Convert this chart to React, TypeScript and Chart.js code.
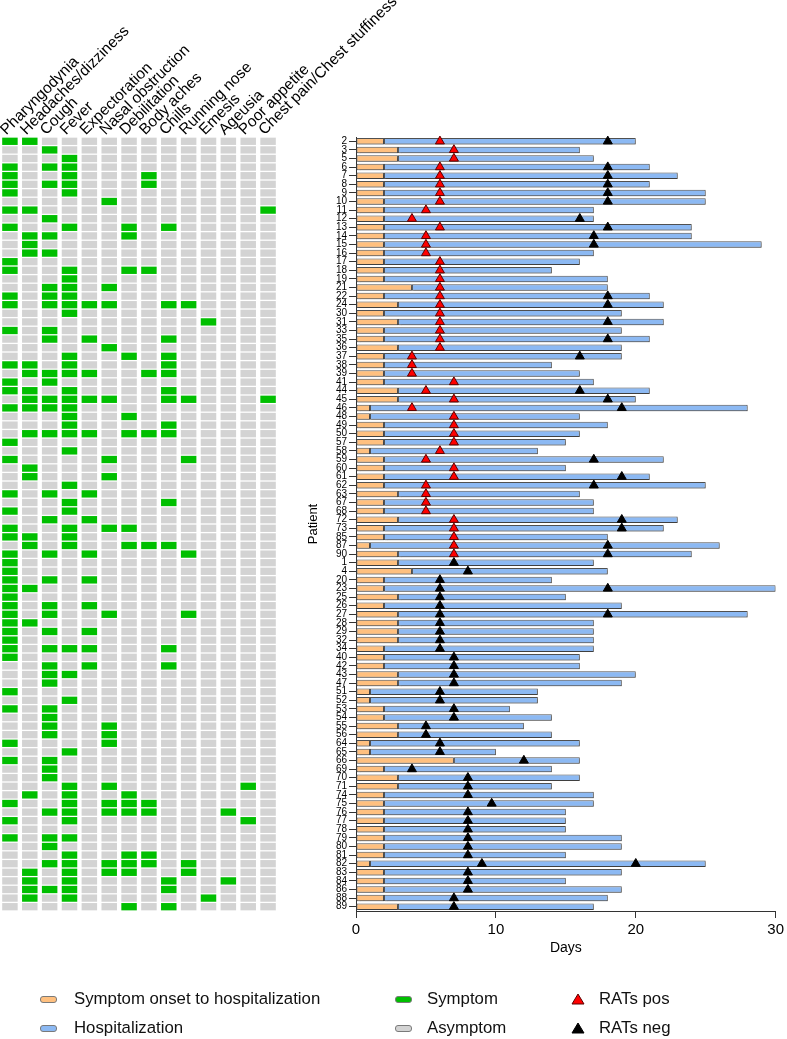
import React, { useEffect, useRef } from 'react';
import { Chart, registerables } from 'chart.js';

Chart.register(...registerables);

const FONT = "'Liberation Sans', Arial, Helvetica, sans-serif";

// Patient IDs, top to bottom
const PATIENTS = [
  '2', '3', '5', '6', '7', '8', '9', '10', '11', '12', '13', '14', '15', '16', '17', '18', '19', '21', '22', '24',
  '30', '31', '33', '35', '36', '37', '38', '39', '41', '44', '45', '46', '48', '49', '50', '57', '58', '59', '60', '61',
  '62', '63', '67', '68', '72', '73', '85', '87', '90', '1', '4', '20', '23', '25', '26', '27', '28', '29', '32', '34',
  '40', '42', '43', '47', '51', '52', '53', '54', '55', '56', '64', '65', '66', '69', '70', '71', '74', '75', '76', '77',
  '78', '79', '80', '81', '82', '83', '84', '86', '88', '89',
];

// Days from symptom onset to hospitalization
const ONSET = [
  2, 3, 3, 2, 2, 2, 2, 2, 2, 2, 2, 2, 2, 2, 2, 2, 2, 4, 2, 3,
  2, 3, 2, 2, 3, 2, 2, 2, 2, 3, 3, 1, 1, 2, 2, 2, 1, 2, 2, 2,
  2, 3, 2, 2, 3, 2, 2, 1, 3, 3, 4, 2, 2, 3, 2, 3, 3, 3, 3, 2,
  2, 2, 3, 3, 1, 1, 2, 2, 3, 3, 1, 1, 7, 2, 3, 3, 2, 2, 2, 2,
  2, 2, 2, 2, 1, 2, 2, 2, 2, 3,
];

// Day at end of hospitalization
const END_DAY = [
  20, 16, 17, 21, 23, 21, 25, 25, 17, 17, 24, 24, 29, 17, 16, 14, 18, 18, 21, 22,
  19, 22, 19, 21, 19, 19, 14, 16, 17, 21, 20, 28, 16, 18, 16, 15, 13, 22, 15, 21,
  25, 16, 17, 17, 23, 22, 18, 26, 24, 17, 18, 14, 30, 15, 19, 28, 17, 17, 17, 17,
  16, 16, 20, 19, 13, 13, 11, 14, 12, 14, 16, 10, 16, 14, 16, 14, 17, 17, 15, 15,
  15, 19, 19, 15, 25, 19, 15, 19, 18, 17,
];

// Day of positive rapid antigen test (null = none)
const RAT_POS = [
  6, 7, 7, 6, 6, 6, 6, 6, 5, 4, 6, 5, 5, 5, 6, 6, 6, 6, 6, 6,
  6, 6, 6, 6, 6, 4, 4, 4, 7, 5, 7, 4, 7, 7, 7, 7, 6, 5, 7, 7,
  5, 5, 5, 5, 7, 7, 7, 7, 7, null, null, null, null, null, null, null, null, null, null, null,
  null, null, null, null, null, null, null, null, null, null, null, null, null, null, null, null, null, null, null, null,
  null, null, null, null, null, null, null, null, null, null,
];

// Day of negative rapid antigen test (null = none)
const RAT_NEG = [
  18, null, null, 18, 18, 18, 18, 18, null, 16, 18, 17, 17, null, null, null, null, null, 18, 18,
  null, 18, null, 18, null, 16, null, null, null, 16, 18, 19, null, null, null, null, null, 17, null, 19,
  17, null, null, null, 19, 19, null, 18, 18, 7, 8, 6, 6, 6, 6, 6, 6, 6, 6, 6,
  7, 7, 7, 7, 6, 6, 7, 7, 5, 5, 6, 6, 12, 4, 8, 8, 8, 9.7, 8, 8,
  8, 8, 8, 8, 9, 8, 8, 8, 7, 7,
];

// Second negative rapid antigen test (null = none)
const RAT_NEG2 = [
  null, null, null, null, null, null, null, null, null, null, null, null, null, null, null, null, null, null, null, null,
  null, null, null, null, null, null, null, null, null, null, null, null, null, null, null, null, null, null, null, null,
  null, null, null, null, null, null, null, null, null, null, null, null, 18, null, null, 18, null, null, null, null,
  null, null, null, null, null, null, null, null, null, null, null, null, null, null, null, null, null, null, null, null,
  null, null, null, null, 20, null, null, null, null, null,
];

const SYMPTOMS = [
  'Pharyngodynia', 'Headaches/dizziness', 'Cough', 'Fever', 'Expectoration', 'Nasal obstruction',
  'Debilitation', 'Body aches', 'Chills', 'Running nose', 'Emesis', 'Ageusia', 'Poor appetite',
  'Chest pain/Chest stuffiness',
];

// One string per patient row, one character per symptom column (1 = symptom)
const SYMPTOM_ROWS = [
  '11000000000000', '00100000000000', '00010000000000', '10110000000000', '10010001000000',
  '10110001000000', '10010000000000', '00000100000000', '11000000000001', '00100000000000',
  '10010010100000', '01100010000000', '01000000000000', '01100000000000', '10000000000000',
  '10010011000000', '00010000000000', '00110100000000', '10110000000000', '10111100110000',
  '00010000000000', '00000000001000', '10100000000000', '00101000100000', '00000100000000',
  '00010010100000', '11010000100000', '01111001100000', '10100000000000', '11010000100000',
  '01111100110001', '11110000000000', '00010010000000', '00010000100000', '01111011100000',
  '10000000000000', '00010000000000', '10000100010000', '01000000000000', '01000100000000',
  '00010000000000', '10101000000000', '00010000100000', '10010000000000', '00101000000000',
  '10010110000000', '11010000000000', '01010011100000', '10101000010000', '10000000000000',
  '10000000000000', '10101000000000', '11000000000000', '10000000000000', '10101000000000',
  '10100100010000', '11000000000000', '10101000000000', '10000000000000', '10111000100000',
  '10000000000000', '00101000100000', '00110000000000', '00100000000000', '10000000000000',
  '00010000000000', '10100000000000', '00100000000000', '00100100000000', '00100100000000',
  '10000100000000', '00010000000000', '10100000000000', '00100000000000', '00100000000000',
  '00010100000010', '01010010000000', '10010111000000', '00110111000100', '10010000000010',
  '00000000000000', '10110000000000', '00100000000000', '00010011000000', '00110111010000',
  '01010110010000', '01010000100100', '01110000100000', '01010000001000', '00000010100000',
];

const ORANGE = '#FFC07F';
const BLUE = '#8CB9F3';
const GREEN = '#00BF00';
const GRAY = '#D3D3D3';
const RED = '#FF0000';
const BLACK = '#000000';

const W = 787;
const H = 1039;
const PLOT_TOP = 137;
const PLOT_BOTTOM_PAD = 128;

const barShadow = {
  id: 'barShadow',
  beforeDatasetDraw(chart: any, args: any) {
    if (args.meta.type === 'bar') {
      const ctx = chart.ctx;
      ctx.save();
      ctx.shadowColor = 'rgba(0,0,0,0.22)';
      ctx.shadowOffsetX = 1;
      ctx.shadowOffsetY = 1.5;
      ctx.shadowBlur = 1;
    }
  },
  afterDatasetDraw(chart: any, args: any) {
    if (args.meta.type === 'bar') chart.ctx.restore();
  },
};

function HeatmapChart() {
  const ref = useRef<HTMLCanvasElement | null>(null);
  useEffect(() => {
    if (!ref.current) return;
    const datasets = SYMPTOMS.map((name, c) => ({
      type: 'bar' as const,
      label: name,
      xAxisID: 'x',
      yAxisID: 'y',
      data: PATIENTS.map(() => [c - 0.39, c + 0.39]),
      backgroundColor: SYMPTOM_ROWS.map((s) => (s[c] === '1' ? GREEN : GRAY)),
      borderWidth: 0,
      grouped: false,
      barPercentage: 0.85,
      categoryPercentage: 1,
    }));
    const chart = new Chart(ref.current, {
      type: 'bar',
      data: { labels: PATIENTS, datasets: datasets as any },
      options: {
        animation: false,
        responsive: false,
        indexAxis: 'y',
        layout: { padding: { left: 0, right: W - 278, top: 0, bottom: PLOT_BOTTOM_PAD } },
        plugins: { legend: { display: false }, tooltip: { enabled: false } },
        scales: {
          x: { type: 'linear', min: -0.5, max: 13.5, display: false },
          xTop: {
            type: 'category',
            position: 'top',
            labels: SYMPTOMS,
            offset: true,
            grid: { display: false, drawTicks: false },
            border: { display: false },
            ticks: {
              autoSkip: false,
              minRotation: 45,
              maxRotation: 45,
              padding: -2,
              labelOffset: 6.5,
              color: '#000',
              font: { size: 15.5, family: FONT },
            },
            afterFit: (s: any) => {
              s.height = PLOT_TOP;
              s.paddingLeft = 0;
              s.paddingRight = 0;
            },
          },
          y: { type: 'category', offset: true, display: false },
        },
      } as any,
    });
    return () => chart.destroy();
  }, []);
  return (
    <canvas ref={ref} width={W} height={H} style={{ position: 'absolute', left: 0, top: 0, width: W, height: H }} />
  );
}

function TimelineChart() {
  const ref = useRef<HTMLCanvasElement | null>(null);
  useEffect(() => {
    if (!ref.current) return;
    const posPts = PATIENTS.map((p, i) => (RAT_POS[i] != null ? { x: RAT_POS[i], y: p } : null)).filter(Boolean);
    const negPts = [
      ...PATIENTS.map((p, i) => (RAT_NEG[i] != null ? { x: RAT_NEG[i], y: p } : null)),
      ...PATIENTS.map((p, i) => (RAT_NEG2[i] != null ? { x: RAT_NEG2[i], y: p } : null)),
    ].filter(Boolean);
    const barCommon = {
      type: 'bar' as const,
      borderColor: '#505050',
      borderWidth: 1,
      borderSkipped: false,
      grouped: false,
      barPercentage: 0.76,
      categoryPercentage: 1,
      order: 1,
    };
    const chart = new Chart(ref.current, {
      type: 'bar',
      data: {
        labels: PATIENTS,
        datasets: [
          {
            type: 'scatter',
            label: 'RATs pos',
            data: posPts,
            pointStyle: 'triangle',
            pointRadius: 5.2,
            backgroundColor: RED,
            borderColor: '#5a0000',
            borderWidth: 1,
            order: 0,
          },
          {
            type: 'scatter',
            label: 'RATs neg',
            data: negPts,
            pointStyle: 'triangle',
            pointRadius: 5.2,
            backgroundColor: BLACK,
            borderColor: BLACK,
            borderWidth: 1,
            order: 0,
          },
          {
            ...barCommon,
            label: 'Symptom onset to hospitalization',
            data: ONSET.map((o) => [0, o]),
            backgroundColor: ORANGE,
          },
          {
            ...barCommon,
            label: 'Hospitalization',
            data: ONSET.map((o, i) => [o, END_DAY[i]]),
            backgroundColor: BLUE,
          },
        ] as any,
      },
      options: {
        animation: false,
        responsive: false,
        indexAxis: 'y',
        layout: { padding: { left: 302, right: 11, top: PLOT_TOP, bottom: PLOT_BOTTOM_PAD - 50 } },
        plugins: { legend: { display: false }, tooltip: { enabled: false } },
        scales: {
          x: {
            type: 'linear',
            min: 0,
            max: 30,
            grid: { drawOnChartArea: false, drawTicks: true, tickLength: 7, color: '#333' },
            border: { display: true, color: '#333', width: 1 },
            ticks: { stepSize: 10, padding: 3, color: '#000', font: { size: 15, family: FONT } },
            title: {
              display: true,
              text: 'Days',
              color: '#000',
              font: { size: 14, family: FONT },
              padding: { top: 0, bottom: 4 },
            },
            afterFit: (s: any) => {
              s.height = 50;
            },
          },
          y: {
            type: 'category',
            offset: true,
            grid: { drawOnChartArea: false, drawTicks: true, tickLength: 7, color: '#333', offset: false },
            border: { display: true, color: '#333', width: 1 },
            ticks: { autoSkip: false, padding: 2, color: '#000', font: { size: 10, family: FONT } },
            title: {
              display: true,
              text: 'Patient',
              color: '#000',
              font: { size: 13, family: FONT },
              padding: { top: 4, bottom: 4 },
            },
            afterFit: (s: any) => {
              s.width = 54;
            },
          },
        },
      } as any,
      plugins: [barShadow],
    });
    return () => chart.destroy();
  }, []);
  return (
    <canvas ref={ref} width={W} height={H} style={{ position: 'absolute', left: 0, top: 0, width: W, height: H }} />
  );
}

const LEGEND_ITEMS = [
  { label: 'Symptom onset to hospitalization', kind: 'box', color: ORANGE, x: 40, y: 999 },
  { label: 'Hospitalization', kind: 'box', color: BLUE, x: 40, y: 1028 },
  { label: 'Symptom', kind: 'box', color: GREEN, x: 395, y: 999 },
  { label: 'Asymptom', kind: 'box', color: GRAY, x: 395, y: 1028 },
  { label: 'RATs pos', kind: 'tri', color: RED, x: 571, y: 999 },
  { label: 'RATs neg', kind: 'tri', color: BLACK, x: 571, y: 1028 },
];

function Legend() {
  return (
    <>
      {LEGEND_ITEMS.map((it) => (
        <div
          key={it.label}
          style={{
            position: 'absolute',
            left: it.x,
            top: it.y - 10,
            height: 20,
            display: 'flex',
            alignItems: 'center',
            fontFamily: FONT,
            fontSize: 16.8,
            color: '#111',
            whiteSpace: 'nowrap',
          }}
        >
          {it.kind === 'box' ? (
            <span
              style={{
                display: 'inline-block',
                width: 15,
                height: 5,
                background: it.color,
                border: '1px solid #7a7a7a',
                borderRadius: 3,
                marginRight: it.x === 40 ? 17 : 15,
              }}
            />
          ) : (
            <svg width={14} height={12} style={{ marginRight: 14 }}>
              <polygon
                points="7,1 13,11 1,11"
                fill={it.color}
                stroke={it.color === RED ? '#5a0000' : '#000'}
                strokeWidth={1}
              />
            </svg>
          )}
          <span>{it.label}</span>
        </div>
      ))}
    </>
  );
}

export default function App() {
  return (
    <div style={{ position: 'absolute', left: 0, top: 0, width: W, height: H, background: '#fff', overflow: 'hidden' }}>
      <HeatmapChart />
      <TimelineChart />
      <Legend />
    </div>
  );
}
